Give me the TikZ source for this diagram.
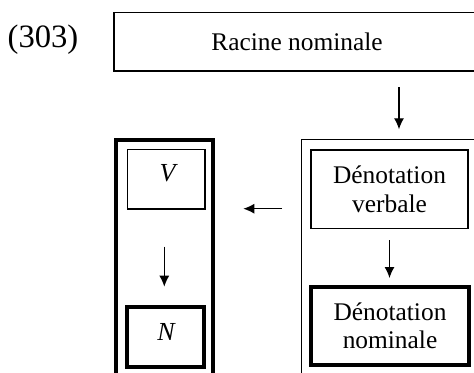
\documentclass[tikz,border=0pt]{standalone}
\usepackage{fontspec}
\setmainfont{Liberation Serif}
\usetikzlibrary{arrows.meta}
\begin{document}
\begin{tikzpicture}[x=0.5pt,y=-0.5pt,
  thinbox/.style={draw, line width=0.6pt, inner sep=0pt, outer sep=0pt},
  thickbox/.style={draw, line width=2pt, inner sep=0pt, outer sep=0pt},
  lbl/.style={font=\fontsize{12.7}{14.2}\selectfont, align=center},
  varlbl/.style={font=\fontsize{13}{15}\selectfont\itshape},
  arr/.style={line width=0.6pt, -{Latex[length=5.5pt,width=5pt]}}]
\useasboundingbox (0,0) rectangle (474,372);
\clip (0,0) rectangle (474,372);
% example number
\node[font=\fontsize{16.3}{18}\selectfont, inner sep=0pt] (num) at (43,40) {(303)};
% top box
\node[thinbox, lbl, minimum width=183pt, minimum height=29.35pt] (racine) at (297,41.7) {Racine nominale};
% outer boxes
\node[thinbox, anchor=north, minimum width=87.65pt, minimum height=140pt] (rout) at (389.35,139.3) {};
\node[thickbox, anchor=north, minimum width=48.5pt, minimum height=140pt] (lout) at (164.5,139.5) {};
% right inner boxes
\node[thinbox, lbl, minimum width=78.5pt, minimum height=39.35pt] (verb) at (389.5,189.35) {Dénotation\\verbale};
\node[thickbox, lbl, minimum width=79pt, minimum height=39.25pt] (nom) at (390,325.75) {Dénotation\\nominale};
% left inner boxes
\node[thinbox, minimum width=38.85pt, minimum height=29.85pt] (vbox) at (166.15,179.15) {};
\node[varlbl] (vtxt) at (167.5,173.5) {V};
\node[thickbox, minimum width=38.5pt, minimum height=30pt] (nbox) at (165.5,336.5) {};
\node[varlbl] (ntxt) at (166,332) {N};
% connectors
\coordinate (cx1) at (399,0);
\coordinate (cx2) at (164.3,0);
\coordinate (hy) at (0,208.7);
\draw[arr, shorten <=8pt, shorten >=5pt] (racine.south -| cx1) -- (rout.north -| cx1);
\draw[arr, shorten <=5.65pt, shorten >=4.25pt] (verb.south) -- (verb.south |- nom.north);
\draw[arr, shorten <=9.85pt, shorten >=15.15pt] (rout.west |- hy) -- (lout.east |- hy);
\draw[arr, shorten <=18.85pt, shorten >=9.9pt] (vbox.south -| cx2) -- (nbox.north -| cx2);
\end{tikzpicture}
\end{document}
